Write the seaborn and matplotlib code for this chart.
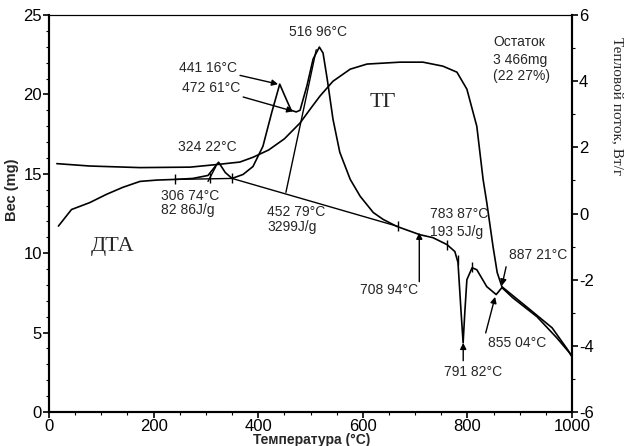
import matplotlib
matplotlib.use("Agg")
import matplotlib.pyplot as plt
from matplotlib.ticker import MultipleLocator
import seaborn as sns

# --- thermogravimetric curve (left axis, mg) ---
tg_temp = [15, 78, 174, 270, 323, 365, 390, 420, 450, 480, 500, 518, 543, 576,
           608, 671, 715, 753, 780, 799, 818, 830, 837, 849, 857, 866, 920, 962,
           992, 1000]
tg_mass = [15.64, 15.49, 15.39, 15.42, 15.59, 15.74, 16.04, 16.5, 17.2, 18.2,
           19.1, 19.89, 20.83, 21.59, 21.91, 22.03, 22.03, 21.78, 21.40, 20.33,
           17.99, 14.65, 13.2, 10.42, 8.78, 7.89, 6.44, 5.30, 3.91, 3.47]

# --- DTA heat-flow curve (right axis, W/g) ---
dta_temp = [18, 43, 78, 110, 141, 174, 206, 241, 275, 304, 324.22, 337, 350, 371,
            390, 409, 426, 441.16, 451, 463, 472.61, 480, 493, 505, 516.96, 524,
            532, 543, 556, 576, 595, 620, 639, 665, 708.94, 734, 761, 776, 782,
            788, 791.82, 795, 799, 809, 818, 837, 855.04, 866, 887, 933, 971, 1000]
dta_flow = [-0.38, 0.12, 0.33, 0.58, 0.79, 0.97, 1.01, 1.03, 1.06, 1.15, 1.55, 1.24,
            1.06, 1.18, 1.42, 2.03, 3.06, 3.91, 3.55, 3.12, 3.07, 3.12, 3.85, 4.67,
            5.03, 4.85, 4.06, 2.85, 1.85, 1.03, 0.52, 0.03, -0.18, -0.39, -0.64,
            -0.73, -0.94, -1.15, -1.48, -3.0, -3.91, -3.0, -2.0, -1.64, -1.70,
            -2.21, -2.45, -2.24, -2.55, -3.12, -3.76, -4.30]

# integration baselines and onset tangents (temperature, heat flow)
base_small_t = [241, 350]
base_small_h = [1.03, 1.06]
base_big_t = [350, 667]
base_big_h = [1.06, -0.39]
onset_small_t = [304, 319]
onset_small_h = [0.97, 1.42]
onset_big_t = [453, 511]
onset_big_h = [0.64, 4.95]

# limit marks placed on the DTA trace
mark_t = [241, 308, 350, 667, 761, 782, 809]
mark_h = [1.03, 1.06, 1.06, -0.39, -0.94, -1.40, -1.62]

x_ticks = [0, 200, 400, 600, 800, 1000]
left_ticks = [0, 5, 10, 15, 20, 25]
right_ticks = [-6, -4, -2, 0, 2, 4, 6]

sns.set_style("ticks")
plt.rcParams["font.family"] = ["Liberation Sans", "DejaVu Sans"]
plt.rcParams["axes.unicode_minus"] = False

W, H = 633, 446
fig = plt.figure(figsize=(W / 100, H / 100), dpi=100)
ax = fig.add_axes([49 / W, 34 / H, 523 / W, 397 / H])
ax2 = ax.twinx()

sns.lineplot(x=tg_temp, y=tg_mass, ax=ax, color="black", lw=1.2,
             sort=False, estimator=None)
sns.lineplot(x=dta_temp, y=dta_flow, ax=ax2, color="black", lw=1.2,
             sort=False, estimator=None)

for tt, hh in [(base_small_t, base_small_h), (base_big_t, base_big_h),
               (onset_small_t, onset_small_h), (onset_big_t, onset_big_h)]:
    ax2.plot(tt, hh, color="black", lw=1.0)
ax2.plot(mark_t, mark_h, ls="none", marker="|", ms=7, mew=1.0, color="black")

ax.set_xlim(0, 1000)
ax.set_ylim(0, 25)
ax2.set_ylim(-6, 6)
ax.set_xticks(x_ticks)
ax.set_yticks(left_ticks)
ax2.set_yticks(right_ticks)
ax.xaxis.set_minor_locator(MultipleLocator(50))
ax.yaxis.set_minor_locator(MultipleLocator(1))
ax2.yaxis.set_minor_locator(MultipleLocator(1))

for a in (ax, ax2):
    a.tick_params(which="major", length=4, width=1.2, labelsize=12, pad=1,
                  color="black", labelcolor="black")
    a.tick_params(which="minor", length=2, width=0.8, color="black")
    for s in ("left", "right", "bottom"):
        a.spines[s].set_linewidth(1.5)
        a.spines[s].set_color("black")
    a.spines["top"].set_linewidth(0.8)
    a.spines["top"].set_color("black")
    a.spines["top"].set_visible(True)
    a.spines["right"].set_visible(True)

ax.set_xlabel("Температура (°C)", fontsize=10, fontweight="bold")
ax.xaxis.set_label_coords(0.503, -0.052)
ax.set_ylabel("Вес (mg)", fontsize=10.5, fontweight="bold")
ax.yaxis.set_label_coords(-0.057, 0.56)
ax2.set_ylabel("Тепловой поток, Вт/г", fontsize=11, rotation=-90,
               family=["Liberation Serif", "DejaVu Serif"])
ax2.yaxis.set_label_coords(1.10, 0.77)

fs = 10
arrow = dict(arrowstyle="-|>", color="black", lw=1.0, mutation_scale=9,
             shrinkA=0, shrinkB=0)

ax2.text(514, 5.48, "516 96°C", fontsize=fs, ha="center", va="center")
ax2.annotate("441 16°C", xy=(438, 3.91), xytext=(359, 4.4), fontsize=fs,
             ha="right", va="center", arrowprops=arrow)
ax2.annotate("472 61°C", xy=(467, 3.09), xytext=(365, 3.8), fontsize=fs,
             ha="right", va="center", arrowprops=arrow)
ax2.text(302, 2.0, "324 22°C", fontsize=fs, ha="center", va="center")
ax2.text(270, 0.52, "306 74°C", fontsize=fs, ha="center", va="center")
ax2.text(266, 0.12, "82 86J/g", fontsize=fs, ha="center", va="center")
ax2.text(417, 0.06, "452 79°C", fontsize=fs, ha="left", va="center")
ax2.text(417, -0.42, "3299J/g", fontsize=fs, ha="left", va="center")
ax2.text(729, -0.03, "783 87°C", fontsize=fs, ha="left", va="center")
ax2.text(729, -0.55, "193 5J/g", fontsize=fs, ha="left", va="center")
ax2.text(706, -2.3, "708 94°C", fontsize=fs, ha="right", va="center")
ax2.annotate("", xy=(708, -0.58), xytext=(708, -2.06), arrowprops=arrow)
ax2.text(935, -1.24, "887 21°C", fontsize=fs, ha="center", va="center")
ax2.annotate("", xy=(866, -2.18), xytext=(874, -1.61), arrowprops=arrow)
ax2.text(895, -3.91, "855 04°C", fontsize=fs, ha="center", va="center")
ax2.annotate("", xy=(853, -2.52), xytext=(835, -3.61), arrowprops=arrow)
ax2.text(811, -4.79, "791 82°C", fontsize=fs, ha="center", va="center")
ax2.annotate("", xy=(792, -3.91), xytext=(792, -4.45), arrowprops=arrow)

ax2.text(849, 5.18, "Остаток", fontsize=fs, ha="left", va="center")
ax2.text(849, 4.63, "3 466mg", fontsize=fs, ha="left", va="center")
ax2.text(849, 4.15, "(22 27%)", fontsize=fs, ha="left", va="center")

serif = ["Liberation Serif", "DejaVu Serif"]
ax2.text(639, 3.36, "ТГ", fontsize=16, ha="center", va="center", family=serif)
ax2.text(122, -1.0, "ДТА", fontsize=16, ha="center", va="center", family=serif)

fig.savefig("out.png", dpi=100)
